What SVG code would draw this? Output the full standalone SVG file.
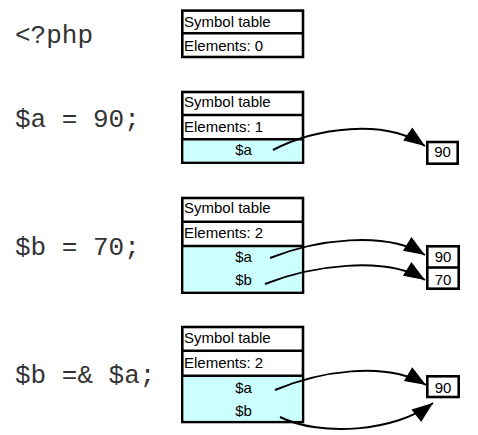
<svg xmlns="http://www.w3.org/2000/svg" width="478" height="435" viewBox="0 0 478 435">
<style>
.code{font-family:"Liberation Mono","Courier New",monospace;font-size:26px;fill:#333}
.t{font-family:"Liberation Sans",Arial,sans-serif;font-size:15px;fill:#000}
.c{text-anchor:middle}
.box{fill:#fff;stroke:#000;stroke-width:2.6}
.cy{fill:#ccffff;stroke:none}
.div{stroke:#000;stroke-width:2.6}
.arr{fill:none;stroke:#000;stroke-width:2;marker-end:url(#ah)}
</style>
<defs>
<marker id="ah" markerUnits="userSpaceOnUse" markerWidth="24" markerHeight="18" viewBox="0 -9 23 18" refX="21" refY="0" orient="auto">
<path d="M0,-8 L21,0 L0,8 z" fill="#000"/>
</marker>
</defs>
<g id="code">
<text class="code" x="15" y="43">&lt;?php</text>
<text class="code" x="15" y="127">$a = 90;</text>
<text class="code" x="15" y="255">$b = 70;</text>
<text class="code" x="15" y="383">$b =&amp; $a;</text>
</g>
<g id="table0">
<rect class="box" x="182.3" y="10.6" width="120.7" height="46.4"/>
<line class="div" x1="182.3" y1="33.3" x2="303" y2="33.3"/>
<text class="t" x="184" y="27.3">Symbol table</text>
<text class="t" x="184" y="50.7">Elements: 0</text>
</g>
<g id="table1">
<rect class="box" x="182.3" y="92" width="120.7" height="70.7"/>
<rect class="cy" x="183.6" y="139.3" width="118.1" height="22.1"/>
<line class="div" x1="182.3" y1="115" x2="303" y2="115"/>
<line class="div" x1="182.3" y1="139.3" x2="303" y2="139.3"/>
<text class="t" x="184" y="107.3">Symbol table</text>
<text class="t" x="184" y="132">Elements: 1</text>
<text class="t c" x="243.5" y="155">$a</text>
</g>
<g id="table2">
<rect class="box" x="182.3" y="198" width="120.7" height="94.7"/>
<rect class="cy" x="183.6" y="246" width="118.1" height="45.4"/>
<line class="div" x1="182.3" y1="221.7" x2="303" y2="221.7"/>
<line class="div" x1="182.3" y1="246" x2="303" y2="246"/>
<text class="t" x="184" y="213.3">Symbol table</text>
<text class="t" x="184" y="238.3">Elements: 2</text>
<text class="t c" x="243.5" y="261.7">$a</text>
<text class="t c" x="243.5" y="285">$b</text>
</g>
<g id="table3">
<rect class="box" x="182.3" y="327" width="120.7" height="95"/>
<rect class="cy" x="183.6" y="375.7" width="118.1" height="45"/>
<line class="div" x1="182.3" y1="350.7" x2="303" y2="350.7"/>
<line class="div" x1="182.3" y1="375.7" x2="303" y2="375.7"/>
<text class="t" x="184" y="343.3">Symbol table</text>
<text class="t" x="184" y="368.3">Elements: 2</text>
<text class="t c" x="243.5" y="393">$a</text>
<text class="t c" x="243.5" y="415.5">$b</text>
</g>
<g id="val1">
<rect class="box" x="427.3" y="142" width="30.4" height="21.7"/>
<text class="t c" x="442.5" y="156.5">90</text>
</g>
<g id="val2">
<rect class="box" x="427.3" y="246.3" width="31.4" height="42.4"/>
<line class="div" x1="427.3" y1="267.5" x2="458.7" y2="267.5"/>
<text class="t c" x="443" y="262">90</text>
<text class="t c" x="443" y="285">70</text>
</g>
<g id="val3">
<rect class="box" x="427.3" y="376.3" width="31.4" height="20.7"/>
<text class="t c" x="443" y="393">90</text>
</g>
<g id="connectors">
<path class="arr" d="M273,150 C315,128 385,118 425,146"/>
<path class="arr" d="M270,258 C315,240 385,230 425,255"/>
<path class="arr" d="M265,284 C310,266 385,255 425,280"/>
<path class="arr" d="M275,390 C318,372 385,360 426,385"/>
<path class="arr" d="M280,417 C320,437 395,432 433,403"/>
</g>
</svg>
